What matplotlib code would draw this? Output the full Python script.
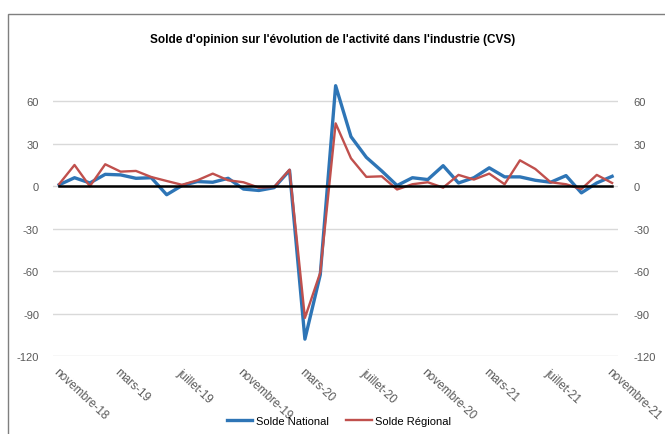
import matplotlib.pyplot as plt
from matplotlib.patches import Rectangle

plt.rcParams['font.family'] = ['Liberation Sans', 'DejaVu Sans']
plt.rcParams['axes.unicode_minus'] = False

# mois : novembre-18 -> novembre-21
mois = ["novembre-18", "décembre-18", "janvier-19", "février-19", "mars-19", "avril-19",
        "mai-19", "juin-19", "juillet-19", "août-19", "septembre-19", "octobre-19",
        "novembre-19", "décembre-19", "janvier-20", "février-20", "mars-20", "avril-20",
        "mai-20", "juin-20", "juillet-20", "août-20", "septembre-20", "octobre-20",
        "novembre-20", "décembre-20", "janvier-21", "février-21", "mars-21", "avril-21",
        "mai-21", "juin-21", "juillet-21", "août-21", "septembre-21", "octobre-21",
        "novembre-21"]

solde_national = [1, 6, 2.3, 8.4, 8, 5.6, 6, -6, 0.5, 3.3, 2.8, 5.6,
                  -2, -3, -1, 11.2, -108, -62.5, 71, 35, 20.4, 10.8, 0.5, 6,
                  4.7, 14.5, 2.3, 6, 13, 6.6, 6.6, 4.2, 2.8, 7.5, -4.7, 2.3, 7]
solde_regional = [1.5, 15, 0, 15.5, 10.3, 10.8, 6.5, 3.7, 1, 4.2, 8.9, 4.2,
                  2.8, -1, -0.5, 11.7, -93, -61, 44.4, 19.7, 6.6, 7, -2.3, 1.4,
                  2.8, -1, 8, 4.7, 8.9, 1.4, 18.3, 12.2, 2.8, 1.4, -2, 8, 2.3]

yticks = [-120, -90, -60, -30, 0, 30, 60]

gris = "#595959"
x = list(range(len(mois)))

fig = plt.figure(figsize=(6.65, 4.35), dpi=100)
ax = fig.add_axes([0.0797, 0.179, 0.850, 0.651])

# cadre extérieur (coupé à droite et en bas)
fig.patches.append(Rectangle((8 / 665, -0.05), 1.0, (435 - 15) / 435 + 0.05,
                             transform=fig.transFigure, fill=False,
                             edgecolor="#7f7f7f", linewidth=1.0))

for v in yticks:
    ax.axhline(v, color="#d9d9d9", linewidth=1.0, zorder=0)

ax.plot(x, solde_national, color="#2e75b6", linewidth=2.4, label="Solde National", zorder=3)
ax.plot(x, solde_regional, color="#c0504d", linewidth=1.7, label="Solde Régional", zorder=4)
ax.plot([0, len(mois) - 1], [0, 0], color="black", linewidth=1.8, zorder=5)

ax.set_xlim(-0.4, len(mois) - 1 + 0.4)
ax.set_ylim(-120, 80)
ax.set_yticks(yticks)
ax.set_xticks(x[::4])
ax.set_xticklabels(mois[::4], rotation=-43, ha="left", va="top",
                   rotation_mode="anchor", fontsize=8.5, color=gris)
ax.tick_params(axis="y", length=0, labelsize=8, labelcolor=gris, pad=10)
ax.tick_params(axis="x", length=0, pad=7)
for s in ax.spines.values():
    s.set_visible(False)

ax2 = ax.twinx()
ax2.set_ylim(ax.get_ylim())
ax2.set_yticks(yticks)
ax2.tick_params(axis="y", length=0, labelsize=8, labelcolor=gris, pad=11)
for s in ax2.spines.values():
    s.set_visible(False)

fig.text(0.5, 1 - 40 / 435, "Solde d'opinion sur l'évolution de l'activité dans l'industrie (CVS)",
         ha="center", va="center", fontsize=8.5, fontweight="bold")

h, l = ax.get_legend_handles_labels()
fig.legend(h, l, loc="center", bbox_to_anchor=(0.51, 1 - 422 / 435), ncol=2,
           frameon=False, fontsize=8, handlelength=2.3, columnspacing=1.6,
           handletextpad=0.3)

plt.savefig("out.png", dpi=100)
